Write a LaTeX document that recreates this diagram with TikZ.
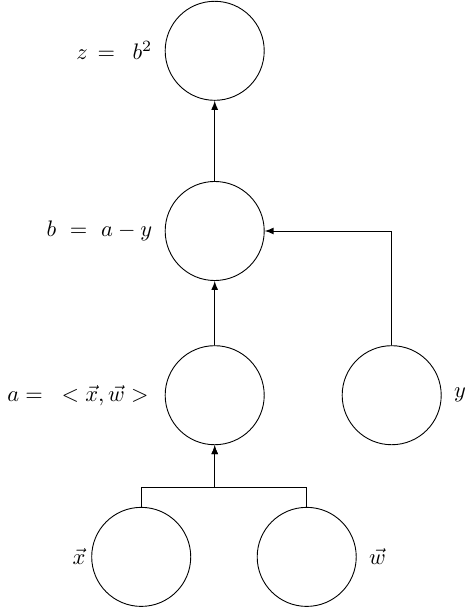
\documentclass[tikz,border=0pt]{standalone}
\begin{document}
\begin{tikzpicture}
  [auto=left,>=latex,label distance=2pt,op/.style={circle,draw,minimum size=1.55cm}]
  \useasboundingbox (0,0) rectangle (7.40,9.515);
  \node[op,label=left:{$z\,=\ \,b^2$}] (z) at (3.36,8.72) {};
  \node[op,label=left:{$b\ =\ a - y$}] (b) at (3.36,5.90) {};
  \node[op,label=left:{$a = \ \ \,<\vec{x},\vec{w}>\,$}] (a) at (3.36,3.33) {};
  \node[op,label=right:{$y$}] (y) at (6.13,3.33) {};
  \node[op,label={[label distance=-1pt]left:$\vec{x}$}] (x) at (2.21,0.80) {};
  \node[op,label=right:{$\vec{w}$}] (w) at (4.80,0.80) {};
  \coordinate (j) at (3.36,1.88);
 \path[->, draw] 
        (b) edge (z)
        (a) edge (b)
        (y) |- (b);
 \draw[->] (x) |- (j) -- (a);
 \draw[->] (w) |- (j) -- (a);

\end{tikzpicture}
\end{document}
